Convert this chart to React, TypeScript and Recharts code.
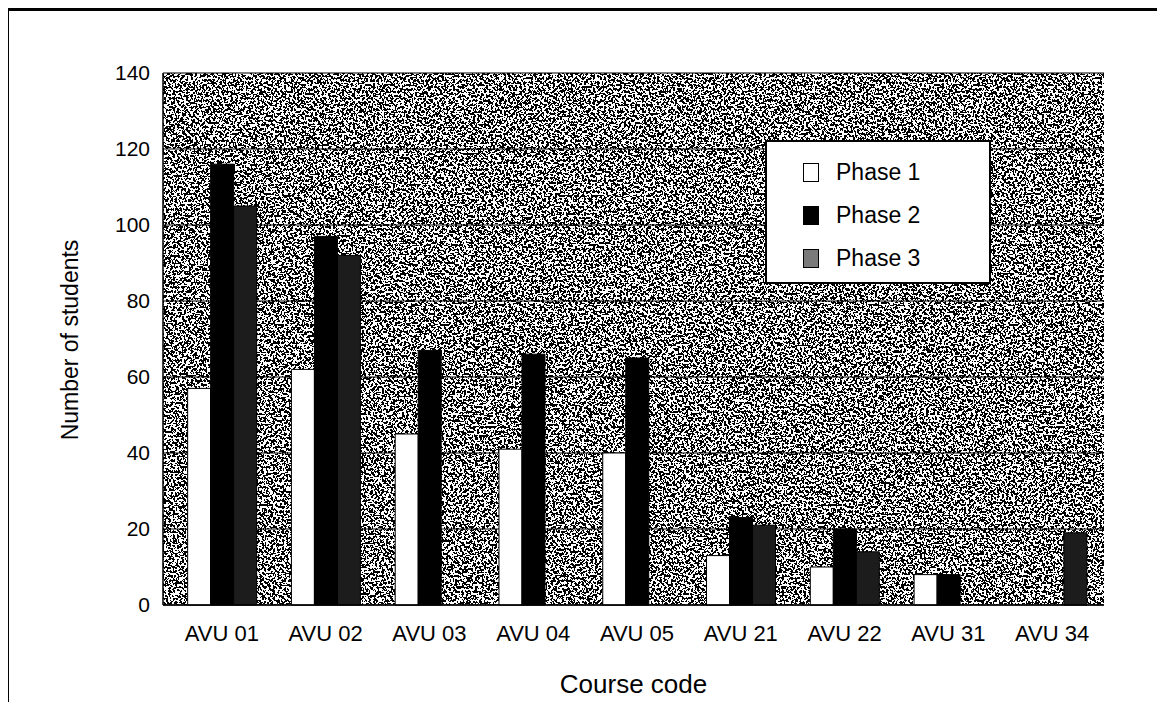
import React from 'react';
import { BarChart, Bar, XAxis, YAxis, CartesianGrid, Legend, Label } from 'recharts';

const categories = ['AVU 01', 'AVU 02', 'AVU 03', 'AVU 04', 'AVU 05', 'AVU 21', 'AVU 22', 'AVU 31', 'AVU 34'];
const phase1 = [57, 62, 45, 41, 40, 13, 10, 8, 0];
const phase2 = [116, 97, 67, 66, 65, 23, 20, 8, 0];
const phase3 = [105, 92, 0, 0, 0, 21, 14, 0, 19];
const yTicks = [0, 20, 40, 60, 80, 100, 120, 140];
const seriesNames = ['Phase 1', 'Phase 2', 'Phase 3'];

const data = categories.map((name, i) => ({
  name,
  p1: phase1[i],
  p2: phase2[i],
  p3: phase3[i],
}));

const FONT = '"Liberation Sans", Arial, Helvetica, sans-serif';
const swatchFill: Record<string, string> = { 'Phase 1': '#ffffff', 'Phase 2': '#000000', 'Phase 3': '#7a7a7a' };
const threshold = '0 1';

const LegendBox = (props: any) => {
  const payload = props.payload || [];
  return (
    <div
      style={{
        position: 'relative',
        width: 226,
        height: 144,
        boxSizing: 'border-box',
        border: '2px solid #000',
        background: '#fff',
        fontFamily: FONT,
      }}
    >
      {payload.map((entry: any, i: number) => (
        <div
          key={entry.value}
          style={{
            position: 'absolute',
            left: 36,
            top: 16 + i * 43,
            height: 28,
            display: 'flex',
            alignItems: 'center',
          }}
        >
          <div
            style={{
              width: 16,
              height: 19,
              boxSizing: 'border-box',
              border: '1.5px solid #000',
              background: swatchFill[entry.value] || entry.color,
              marginRight: 17,
            }}
          />
          <span style={{ fontSize: 23, color: '#000', lineHeight: '28px' }}>{entry.value}</span>
        </div>
      ))}
    </div>
  );
};

const YTitle = () => (
  <text
    x={0}
    y={0}
    transform="translate(70,340) rotate(-90)"
    textAnchor="middle"
    dominantBaseline="central"
    fontSize={23}
    fontFamily={FONT}
    fill="#000"
  >
    Number of students
  </text>
);

export default function App() {
  return (
    <div style={{ position: 'relative', width: 1165, height: 710, margin: -8, background: '#fff', overflow: 'hidden' }}>
      <div style={{ position: 'absolute', left: 0, top: 0 }}>
        <BarChart
          width={1165}
          height={710}
          data={data}
          margin={{ top: 73, right: 61, bottom: 0, left: 0 }}
          barCategoryGap="17%"
          barGap={0}
        >
          <defs>
            <filter id="nzf" x="0" y="0" width="1" height="1" colorInterpolationFilters="sRGB">
              <feTurbulence type="fractalNoise" baseFrequency="0.45" numOctaves={2} seed={7} result="t" />
              <feColorMatrix in="t" type="matrix" values="1 0 0 0 0  1 0 0 0 0  1 0 0 0 0  0 0 0 0 1" result="g" />
              <feComponentTransfer in="g">
                <feFuncR type="discrete" tableValues={threshold} />
                <feFuncG type="discrete" tableValues={threshold} />
                <feFuncB type="discrete" tableValues={threshold} />
              </feComponentTransfer>
            </filter>
            <pattern id="bgNoise" patternUnits="userSpaceOnUse" x={0} y={0} width={1165} height={710}>
              <rect x={0} y={0} width={1165} height={710} fill="#808080" filter="url(#nzf)" />
            </pattern>
          </defs>
          <CartesianGrid vertical={false} stroke="#000" strokeWidth={1} fill="url(#bgNoise)" fillOpacity={1} />
          <XAxis
            dataKey="name"
            height={105}
            interval={0}
            padding={{ left: 7, right: 0 }}
            axisLine={{ stroke: '#000', strokeWidth: 1.5 }}
            tickLine={false}
            tickSize={0}
            tickMargin={20}
            tick={{ fill: '#000', fontSize: 22, fontFamily: FONT }}
          >
            <Label value="Course code" position="insideBottom" offset={17} fill="#000" fontSize={26} fontFamily={FONT} />
          </XAxis>
          <YAxis
            width={163}
            domain={[0, 140]}
            ticks={yTicks}
            interval={0}
            axisLine={{ stroke: '#000', strokeWidth: 1.5 }}
            tickLine={false}
            tickSize={0}
            tickMargin={13}
            tick={{ fill: '#000', fontSize: 21, fontFamily: FONT }}
          >
            <Label content={<YTitle />} />
          </YAxis>
          <YAxis yAxisId="right" orientation="right" width={0} tick={false} tickLine={false} axisLine={{ stroke: '#000', strokeWidth: 1.5 }} />
          <Legend
            layout="vertical"
            align="center"
            verticalAlign="middle"
            content={<LegendBox />}
            wrapperStyle={{ position: 'absolute', left: 765, top: 140, width: 226, height: 144 }}
          />
          <Bar dataKey="p1" name={seriesNames[0]} fill="#ffffff" stroke="#000" strokeWidth={1} isAnimationActive={false} />
          <Bar dataKey="p2" name={seriesNames[1]} fill="#000000" stroke="#000" strokeWidth={1} isAnimationActive={false} />
          <Bar dataKey="p3" name={seriesNames[2]} fill="#1c1c1c" stroke="#000" strokeWidth={1} isAnimationActive={false} />
        </BarChart>
      </div>
      <div style={{ position: 'absolute', left: 0, top: 8, width: 1165, height: 3, background: '#000', zIndex: 5 }} />
      <div style={{ position: 'absolute', left: 6, top: 8, width: 3, height: 702, background: '#000', zIndex: 5 }} />
    </div>
  );
}
